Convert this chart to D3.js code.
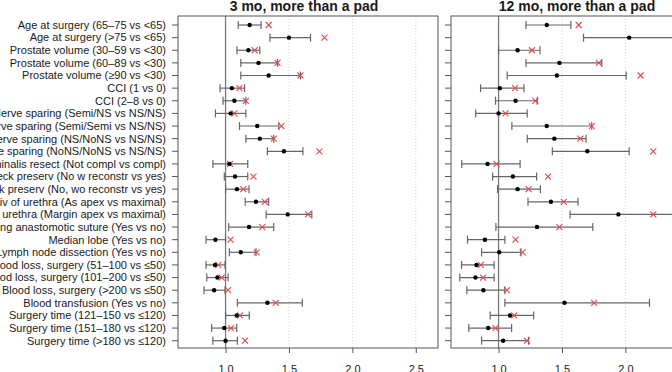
<!DOCTYPE html>
<html>
<head>
<meta charset="utf-8">
<script src="https://cdn.jsdelivr.net/npm/d3@7"></script>
<style>
  body { margin: 0; background: #fff; }
  svg { display: block; font-family: "Liberation Sans", Arial, sans-serif; }
</style>
</head>
<body>
<svg id="chart" width="672" height="372"></svg>
<script>
const labels = [
  "Age at surgery (65\u201375 vs <65)",
  "Age at surgery (>75 vs <65)",
  "Prostate volume (30\u201359 vs <30)",
  "Prostate volume (60\u201389 vs <30)",
  "Prostate volume (\u226590 vs <30)",
  "CCI (1 vs 0)",
  "CCI (2\u20138 vs 0)",
  "Nerve sparing (Semi/NS vs NS/NS)",
  "Nerve sparing (Semi/Semi vs NS/NS)",
  "Nerve sparing (NS/NoNS vs NS/NS)",
  "Nerve sparing (NoNS/NoNS vs NS/NS)",
  "Vesiculae seminalis resect (Not compl vs compl)",
  "Bladder neck preserv (No w reconstr vs yes)",
  "Bladder neck preserv (No, wo reconstr vs yes)",
  "Div of urethra (As apex vs maximal)",
  "Div of urethra (Margin apex vs maximal)",
  "Running anastomotic suture (Yes vs no)",
  "Median lobe (Yes vs no)",
  "Lymph node dissection (Yes vs no)",
  "Blood loss, surgery (51\u2013100 vs \u226450)",
  "Blood loss, surgery (101\u2013200 vs \u226450)",
  "Blood loss, surgery (>200 vs \u226450)",
  "Blood transfusion (Yes vs no)",
  "Surgery time (121\u2013150 vs \u2264120)",
  "Surgery time (151\u2013180 vs \u2264120)",
  "Surgery time (>180 vs \u2264120)"
];

const panelTitles = ["3 mo, more than a pad", "12 mo, more than a pad"];
const xTicks = [1.0, 1.5, 2.0, 2.5];

// 3 months
const est3 = [1.19, 1.50, 1.18, 1.26, 1.34, 1.05, 1.07, 1.04, 1.25, 1.27, 1.46, 1.03, 1.075, 1.09,
              1.24, 1.49, 1.185, 0.92, 1.12, 0.917, 0.936, 0.91, 1.33, 1.088, 0.99, 1.0];
const lo3  = [1.10, 1.35, 1.09, 1.12, 1.12, 0.957, 0.98, 0.92, 1.11, 1.16, 1.33, 0.90, 0.99, 1.0,
              1.155, 1.32, 1.025, 0.846, 1.03, 0.846, 0.852, 0.83, 1.093, 1.0, 0.89, 0.90];
const hi3  = [1.28, 1.67, 1.27, 1.41, 1.59, 1.15, 1.16, 1.16, 1.42, 1.38, 1.61, 1.175, 1.175, 1.185,
              1.34, 1.68, 1.38, 1.0, 1.24, 0.996, 1.02, 0.996, 1.605, 1.187, 1.088, 1.093];
const alt3 = [1.34, 1.78, 1.23, 1.41, 1.59, 1.11, 1.16, 1.07, 1.44, 1.38, 1.74, 1.035, 1.22, 1.14,
              1.31, 1.65, 1.29, 1.04, 1.245, 0.943, 0.97, 1.02, 1.395, 1.114, 1.043, 1.153];

// 12 months
const est12 = [1.38, 2.03, 1.15, 1.48, 1.46, 1.01, 1.134, 1.0, 1.38, 1.44, 1.70, 0.913, 1.113, 1.15,
               1.413, 1.945, 1.303, 0.892, 1.005, 0.826, 0.818, 0.88, 1.52, 1.09, 0.918, 1.036];
const lo12  = [1.216, 1.67, 1.0, 1.216, 1.068, 0.858, 0.976, 0.82, 1.105, 1.226, 1.424, 0.71, 0.953, 0.992,
               1.232, 1.564, 0.979, 0.755, 0.866, 0.708, 0.694, 0.75, 1.05, 0.934, 0.765, 0.866];
const hi12  = [1.57, 2.45, 1.327, 1.814, 2.006, 1.2, 1.305, 1.226, 1.735, 1.69, 2.03, 1.17, 1.30, 1.33,
               1.627, 2.45, 1.743, 1.05, 1.176, 0.965, 0.965, 1.05, 2.19, 1.277, 1.103, 1.237];
const alt12 = [1.632, 2.5, 1.263, 1.79, 2.12, 1.13, 1.29, 1.055, 1.735, 1.645, 2.22, 0.984, 1.39, 1.237,
               1.514, 2.22, 1.48, 1.134, 1.19, 0.86, 0.878, 1.066, 1.753, 1.123, 0.976, 1.224];

const panels = [
  { title: panelTitles[0], est: est3, lo: lo3, hi: hi3, alt: alt3, left: 178 },
  { title: panelTitles[1], est: est12, lo: lo12, hi: hi12, alt: alt12, left: 451 }
];

const svg = d3.select("#chart");
const plotTop = 16, plotBottom = 348, panelW = 260;

const y = d3.scaleLinear().domain([0, labels.length - 1]).range([25, 340.7]);

// row labels on the left
svg.append("g")
  .selectAll("text")
  .data(labels)
  .join("text")
  .attr("x", 166)
  .attr("y", (d, i) => y(i))
  .attr("dy", "0.35em")
  .attr("text-anchor", "end")
  .attr("fill", "#1a1a1a")
  .style("font-size", "11px")
  .text(d => d);

panels.forEach((p, pi) => {
  const x = d3.scaleLinear().domain([0.625, 2.675]).range([p.left, p.left + panelW]);
  const g = svg.append("g");

  const clipId = "clip" + pi;
  svg.append("clipPath").attr("id", clipId)
    .append("rect")
    .attr("x", p.left).attr("y", plotTop)
    .attr("width", panelW).attr("height", plotBottom - plotTop);

  // dotted grid
  g.selectAll(".grid")
    .data(xTicks.filter(t => t !== 1))
    .join("line")
    .attr("x1", d => x(d)).attr("x2", d => x(d))
    .attr("y1", plotTop).attr("y2", plotBottom)
    .attr("stroke", "#d4d4d4")
    .attr("stroke-dasharray", "1,2");

  // reference line at 1
  g.append("line")
    .attr("x1", x(1)).attr("x2", x(1))
    .attr("y1", plotTop).attr("y2", plotBottom)
    .attr("stroke", "#7a7a7a")
    .attr("stroke-width", 1.3);

  // y ticks
  g.selectAll(".ytick")
    .data(labels)
    .join("line")
    .attr("x1", p.left - 6).attr("x2", p.left)
    .attr("y1", (d, i) => y(i)).attr("y2", (d, i) => y(i))
    .attr("stroke", "#555");

  // x axis
  const xAxis = svg.append("g")
    .attr("transform", `translate(0,${plotBottom})`)
    .call(d3.axisBottom(x).tickValues(xTicks).tickFormat(d3.format(".1f")).tickSize(5).tickPadding(12));
  xAxis.select(".domain").remove();
  xAxis.selectAll("line").attr("stroke", "#555");
  xAxis.selectAll("text").attr("fill", "#1a1a1a").style("font-size", "11px")
    .style("font-family", "'Liberation Sans', Arial, sans-serif");

  const marks = g.append("g").attr("clip-path", `url(#${clipId})`);
  const rows = labels.map((l, i) => i);

  // CI lines
  marks.selectAll(".ci")
    .data(rows)
    .join("line")
    .attr("x1", i => x(p.lo[i])).attr("x2", i => x(p.hi[i]))
    .attr("y1", i => y(i)).attr("y2", i => y(i))
    .attr("stroke", "#666")
    .attr("stroke-width", 1.2);

  ["lo", "hi"].forEach(k => {
    marks.selectAll(".cap-" + k)
      .data(rows)
      .join("line")
      .attr("x1", i => x(p[k][i])).attr("x2", i => x(p[k][i]))
      .attr("y1", i => y(i) - 4).attr("y2", i => y(i) + 4)
      .attr("stroke", "#666")
      .attr("stroke-width", 1.2);
  });

  // red crosses
  marks.selectAll(".alt")
    .data(rows)
    .join("path")
    .attr("transform", i => `translate(${x(p.alt[i])},${y(i)})`)
    .attr("d", "M-3,-3L3,3M-3,3L3,-3")
    .attr("stroke", "#e5484a")
    .attr("stroke-width", 1.1)
    .attr("fill", "none");

  // point estimates
  marks.selectAll(".est")
    .data(rows)
    .join("circle")
    .attr("cx", i => x(p.est[i]))
    .attr("cy", i => y(i))
    .attr("r", 2.2)
    .attr("fill", "#000");

  // box
  g.append("rect")
    .attr("x", p.left).attr("y", plotTop)
    .attr("width", panelW).attr("height", plotBottom - plotTop)
    .attr("fill", "none")
    .attr("stroke", "#555")
    .attr("stroke-width", 1);

  // title
  svg.append("text")
    .attr("x", p.left + panelW / 2 - 4)
    .attr("y", 11)
    .attr("text-anchor", "middle")
    .attr("fill", "#1a1a1a")
    .style("font-size", "14px")
    .style("font-weight", "bold")
    .text(p.title);
});
</script>
</body>
</html>
